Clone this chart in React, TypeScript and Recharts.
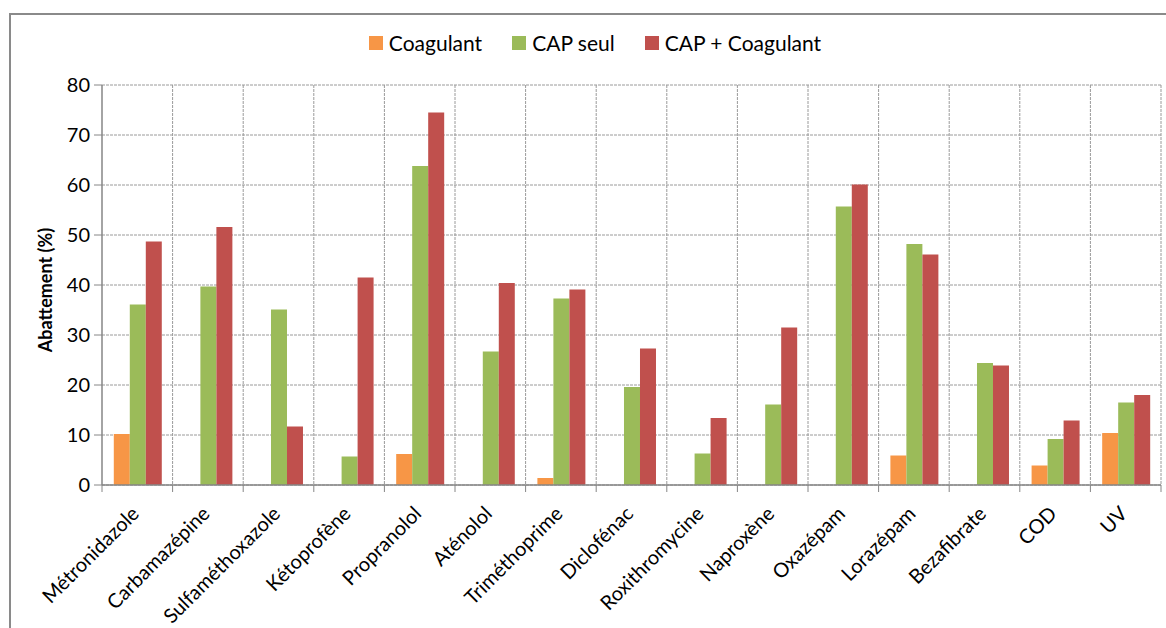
import React from 'react';
import { BarChart, Bar, XAxis, YAxis, CartesianGrid, Legend, Label } from 'recharts';

const categories = ['Métronidazole', 'Carbamazépine', 'Sulfaméthoxazole', 'Kétoprofène', 'Propranolol', 'Aténolol', 'Triméthoprime', 'Diclofénac', 'Roxithromycine', 'Naproxène', 'Oxazépam', 'Lorazépam', 'Bezafibrate', 'COD', 'UV'];
const coagulant = [10.2, null, null, null, 6.2, null, 1.4, null, null, null, null, 5.9, null, 3.9, 10.4];
const capSeul = [36.1, 39.7, 35.1, 5.7, 63.8, 26.7, 37.3, 19.6, 6.3, 16.1, 55.7, 48.2, 24.4, 9.2, 16.5];
const capCoagulant = [48.7, 51.6, 11.7, 41.5, 74.5, 40.4, 39.1, 27.3, 13.4, 31.5, 60.1, 46.1, 23.9, 12.9, 18.0];
const yTicks = [0, 10, 20, 30, 40, 50, 60, 70, 80];
const seriesNames = ['Coagulant', 'CAP seul', 'CAP + Coagulant'];
const seriesColors = ['#F79646', '#9BBB59', '#C0504D'];

const data = categories.map((c, i) => ({
  name: c,
  coagulant: coagulant[i],
  capSeul: capSeul[i],
  capCoagulant: capCoagulant[i],
}));

const FONT = 'Lato, "Liberation Sans", sans-serif';
const AXIS_COLOR = '#868686';

const CatTick = (props: any) => {
  const { x, y, payload, index, visibleTicksCount } = props;
  const half = payload && typeof payload.offset === 'number' && payload.offset > 0 ? payload.offset : 35.3;
  const last = index === (visibleTicksCount ?? categories.length) - 1;
  return (
    <g>
      <line x1={x - half} y1={y} x2={x - half} y2={y + 7} stroke={AXIS_COLOR} strokeWidth={1} />
      {last && <line x1={x + half} y1={y} x2={x + half} y2={y + 7} stroke={AXIS_COLOR} strokeWidth={1} />}
      <text
        x={x + 3}
        y={y + 30}
        transform={`rotate(-45, ${x + 3}, ${y + 30})`}
        textAnchor="end"
        fontFamily={FONT}
        fontSize={20}
        fill="#000"
      >
        {payload.value}
      </text>
    </g>
  );
};

const LegendContent = (props: any) => {
  const items = [...(props.payload || [])].sort(
    (a: any, b: any) => seriesNames.indexOf(a.value) - seriesNames.indexOf(b.value)
  );
  return (
    <div style={{ display: 'flex', justifyContent: 'center', alignItems: 'center', fontFamily: FONT, fontSize: 21, color: '#000' }}>
      {items.map((p: any, i: number) => (
        <div key={i} style={{ display: 'flex', alignItems: 'center', marginLeft: i === 0 ? 0 : 30 }}>
          <span style={{ display: 'inline-block', width: 14, height: 14, background: p.color, marginRight: 6 }} />
          <span>{p.value}</span>
        </div>
      ))}
    </div>
  );
};

export default function App() {
  return (
    <div style={{ position: 'absolute', left: 0, top: 0, width: 1166, height: 628, background: '#fff', overflow: 'hidden' }}>
      <div style={{ position: 'absolute', left: 9, top: 13, width: 1200, height: 700, borderLeft: '2px solid #8a8a8a', borderTop: '2px solid #8a8a8a' }} />
      <div style={{ position: 'absolute', left: 0, top: 0 }}>
        <BarChart
          width={1166}
          height={628}
          data={data}
          margin={{ top: 85, right: 5, left: 0, bottom: 0 }}
          barCategoryGap="16.7%"
          barGap={0}
        >
          <CartesianGrid
            stroke="#9a9a9a"
            strokeDasharray="3 1"
            verticalCoordinatesGenerator={({ offset }: any) =>
              categories.map((_, i) => offset.left + ((i + 1) * offset.width) / categories.length)
            }
          />
          <XAxis
            dataKey="name"
            interval={0}
            height={143}
            tickSize={0}
            tickMargin={0}
            tickLine={false}
            axisLine={{ stroke: AXIS_COLOR, strokeWidth: 1.5 }}
            tick={<CatTick />}
          />
          <YAxis
            width={102}
            domain={[0, 80]}
            ticks={yTicks}
            interval={0}
            tickSize={8}
            tickMargin={4}
            axisLine={{ stroke: AXIS_COLOR, strokeWidth: 1.5 }}
            tickLine={{ stroke: AXIS_COLOR }}
            tick={{ fill: '#000', fontFamily: FONT, fontSize: 20 }}
          >
            <Label
              content={({ viewBox }: any) => (
                <text
                  x={45}
                  y={viewBox.y + viewBox.height / 2 + 5}
                  transform={`rotate(-90, 45, ${viewBox.y + viewBox.height / 2 + 5})`}
                  textAnchor="middle"
                  dominantBaseline="central"
                  fontFamily={FONT}
                  fontWeight="bold"
                  fontSize={18}
                  fill="#000"
                >
                  Abattement (%)
                </text>
              )}
            />
          </YAxis>
          <Legend
            verticalAlign="middle"
            align="center"
            layout="horizontal"
            wrapperStyle={{ top: 30, left: 12, width: 1166 }}
            content={<LegendContent />}
          />
          <Bar dataKey="coagulant" name={seriesNames[0]} fill={seriesColors[0]} isAnimationActive={false} />
          <Bar dataKey="capSeul" name={seriesNames[1]} fill={seriesColors[1]} isAnimationActive={false} />
          <Bar dataKey="capCoagulant" name={seriesNames[2]} fill={seriesColors[2]} isAnimationActive={false} />
        </BarChart>
      </div>
    </div>
  );
}
